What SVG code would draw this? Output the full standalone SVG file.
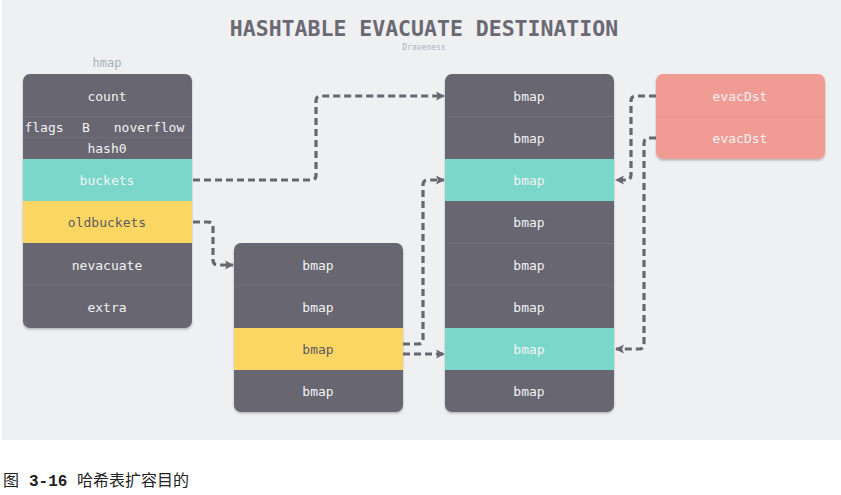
<svg xmlns="http://www.w3.org/2000/svg" width="841" height="495" viewBox="0 0 841 495">
<style>
.bg{fill:#eff0f2}
.dk{fill:#68666f}
.tl{fill:#7ad7c9}
.yl{fill:#fcd663}
.sm{fill:#f09c95}
.div{stroke:#6f6d76;stroke-width:1}
.t{font-family:"DejaVu Sans Mono","Liberation Mono",monospace;font-size:13px;fill:#f2f2f4;text-anchor:middle}
.lbl{font-family:"DejaVu Sans Mono","Liberation Mono",monospace;font-size:12px;fill:#a9b0bb;text-anchor:middle}
.c{fill:none;stroke:#68666f;stroke-width:3.2;stroke-dasharray:7 4}
.cap{font-family:"Noto Sans CJK SC",sans-serif;font-size:16px;fill:#222}
</style>
<defs>
<marker id="ah" markerWidth="10" markerHeight="10" refX="8" refY="5" orient="auto" markerUnits="userSpaceOnUse">
<path d="M0,0.5 L9,5 L0,9.5 L2,5 Z" fill="#68666f"/>
</marker>
<filter id="sh" x="-10%" y="-10%" width="120%" height="120%">
<feDropShadow dx="0" dy="1.5" stdDeviation="1.2" flood-color="#000" flood-opacity="0.25"/>
</filter>
<clipPath id="c1"><rect x="23" y="74" width="169" height="254" rx="7"/></clipPath>
<clipPath id="c2"><rect x="234" y="243" width="169" height="169" rx="7"/></clipPath>
<clipPath id="c3"><rect x="445" y="74" width="169" height="338" rx="7"/></clipPath>
</defs>
<rect class="bg" x="2" y="0" width="839" height="440"/>
<text x="424" y="36" font-family="DejaVu Sans Mono,Liberation Mono,monospace" font-size="21.5" font-weight="bold" fill="#6b6973" text-anchor="middle">HASHTABLE EVACUATE DESTINATION</text>
<text x="424" y="50" font-family="DejaVu Sans Mono,Liberation Mono,monospace" font-size="8" fill="#a9b0bb" text-anchor="middle">Draveness</text>

<g id="hmap">
<text class="lbl" x="107" y="67">hmap</text>
<rect x="23" y="74" width="169" height="254" rx="7" class="dk" filter="url(#sh)"/>
<g clip-path="url(#c1)">
<rect class="tl" x="23" y="159" width="169" height="42"/>
<rect class="yl" x="23" y="201" width="169" height="42"/>
<line class="div" x1="23" y1="116.5" x2="192" y2="116.5"/>
<line class="div" x1="23" y1="137.5" x2="192" y2="137.5"/>
<line class="div" x1="23" y1="285.5" x2="192" y2="285.5"/>
</g>
<text class="t" x="107" y="101">count</text>
<text class="t" x="44" y="132">flags</text>
<text class="t" x="86" y="132">B</text>
<text class="t" x="149" y="132">noverflow</text>
<text class="t" x="107" y="153">hash0</text>
<text class="t" x="107" y="185">buckets</text>
<text class="t" x="107" y="227" style="fill:#5d5b64">oldbuckets</text>
<text class="t" x="107" y="270">nevacuate</text>
<text class="t" x="107" y="312">extra</text>
</g>

<g id="oldbmaps">
<rect x="234" y="243" width="169" height="169" rx="7" class="dk" filter="url(#sh)"/>
<g clip-path="url(#c2)">
<rect class="yl" x="234" y="328" width="169" height="42"/>
<line class="div" x1="234" y1="285.5" x2="403" y2="285.5"/>
</g>
<text class="t" x="318" y="270">bmap</text>
<text class="t" x="318" y="312">bmap</text>
<text class="t" x="318" y="354" style="fill:#5d5b64">bmap</text>
<text class="t" x="318" y="396">bmap</text>
</g>

<g id="newbmaps">
<rect x="445" y="74" width="169" height="338" rx="7" class="dk" filter="url(#sh)"/>
<g clip-path="url(#c3)">
<rect class="tl" x="445" y="159" width="169" height="42"/>
<rect class="tl" x="445" y="328" width="169" height="42"/>
<line class="div" x1="445" y1="116.5" x2="614" y2="116.5"/>
<line class="div" x1="445" y1="243.5" x2="614" y2="243.5"/>
<line class="div" x1="445" y1="285.5" x2="614" y2="285.5"/>
</g>
<text class="t" x="529" y="101">bmap</text>
<text class="t" x="529" y="143">bmap</text>
<text class="t" x="529" y="185">bmap</text>
<text class="t" x="529" y="227">bmap</text>
<text class="t" x="529" y="270">bmap</text>
<text class="t" x="529" y="312">bmap</text>
<text class="t" x="529" y="354">bmap</text>
<text class="t" x="529" y="396">bmap</text>
</g>

<g id="evacDst">
<rect x="656" y="74" width="169" height="85" rx="7" class="sm" filter="url(#sh)"/>
<line x1="656" y1="116.5" x2="825" y2="116.5" stroke="#e6928b" stroke-width="1"/>
<text class="t" x="740" y="101">evacDst</text>
<text class="t" x="740" y="143">evacDst</text>
</g>

<g id="connectors">
<path class="c" d="M193,180 H311 Q316,180 316,175 V101 Q316,96 321,96 H444" marker-end="url(#ah)"/>
<path class="c" d="M193,222 H208 Q213,222 213,227 V260 Q213,265 218,265 H233" marker-end="url(#ah)"/>
<path class="c" d="M403,344 H418 Q423,344 423,339 V185 Q423,180 428,180 H444" marker-end="url(#ah)"/>
<path class="c" d="M403,354 H444" marker-end="url(#ah)"/>
<path class="c" d="M656,96 H636 Q631,96 631,101 V175 Q631,180 626,180 H616" marker-end="url(#ah)"/>
<path class="c" d="M656,138 H649 Q644,138 644,143 V344 Q644,349 639,349 H616" marker-end="url(#ah)"/>
</g>

<text class="cap" x="3" y="486">图</text>
<text x="29" y="486" font-family="Liberation Mono,DejaVu Sans Mono,monospace" font-size="16" font-weight="bold" fill="#222">3-16</text>
<text class="cap" x="77" y="486">哈希表扩容目的</text>
</svg>
